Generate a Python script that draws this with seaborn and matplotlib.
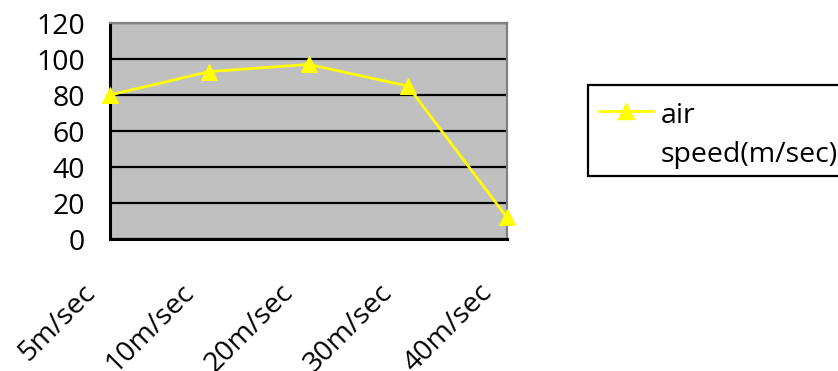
import pandas as pd
import matplotlib
matplotlib.use('Agg')
import matplotlib.pyplot as plt
import seaborn as sns
from matplotlib.lines import Line2D
from matplotlib.patches import Rectangle
from matplotlib.transforms import ScaledTranslation

# data
speeds = ['5m/sec', '10m/sec', '20m/sec', '30m/sec', '40m/sec']
air_speed = [80, 93, 97, 85, 12]
y_ticks = [0, 20, 40, 60, 80, 100, 120]
legend_lines = ['air', 'speed(m/sec)']

df = pd.DataFrame({'speed': speeds, 'air': air_speed})

sns.set_style('white')
plt.rcParams['font.family'] = ['Open Sans', 'DejaVu Sans']
plt.rcParams['text.color'] = 'black'
plt.rcParams['xtick.color'] = 'black'
plt.rcParams['ytick.color'] = 'black'

W, H = 838, 371
fig = plt.figure(figsize=(W / 100, H / 100), dpi=100)
ax = fig.add_axes([110 / W, 1 - 239 / H, 397 / W, 216 / H])
ax.set_facecolor('#C0C0C0')

sns.lineplot(data=df, x='speed', y='air', ax=ax, color='#FFFF00', lw=2,
             marker='^', markersize=11, markeredgecolor='#FFFF00', sort=False,
             clip_on=False, zorder=5)

ax.set_xlim(0, len(speeds) - 1)
ax.set_ylim(0, 120)
ax.set_yticks(y_ticks)
ax.yaxis.grid(True, color='black', lw=1.6)
ax.set_axisbelow(True)
ax.set_xlabel('')
ax.set_ylabel('')

for s in ['left', 'bottom']:
    ax.spines[s].set_color('black')
    ax.spines[s].set_linewidth(2.2)
for s in ['top', 'right']:
    ax.spines[s].set_color('#808080')
    ax.spines[s].set_linewidth(1.6)

ax.tick_params(axis='y', direction='in', length=6, width=1.6, color='black',
               labelsize=20.5, labelcolor='black', pad=18)
ax.tick_params(axis='x', direction='in', length=8, width=1.6, color='black',
               labelsize=20.5, labelcolor='black', pad=18)
ax.set_xticks(range(len(speeds)))
ax.set_xticklabels(speeds, rotation=45, ha='right', va='top', rotation_mode='anchor')
shift = ScaledTranslation(-0.29, -0.15, fig.dpi_scale_trans)
for lab in ax.get_xticklabels():
    lab.set_transform(lab.get_transform() + shift)

# legend box (runs off the right edge like the original)
fx = lambda px: px / W
fy = lambda py: 1 - py / H
fig.add_artist(Rectangle((fx(588), fy(176)), fx(900) - fx(588), fy(85) - fy(176),
                         transform=fig.transFigure, facecolor='white',
                         edgecolor='black', lw=1.6, clip_on=False))
fig.add_artist(Line2D([fx(599), fx(653)], [fy(111), fy(111)], transform=fig.transFigure,
                      color='#FFFF00', lw=2))
fig.add_artist(Line2D([fx(626)], [fy(111)], transform=fig.transFigure, color='#FFFF00',
                      marker='^', markersize=11, lw=0))
fig.text(fx(661), fy(123), legend_lines[0], fontsize=20.5, va='baseline', ha='left')
fig.text(fx(661), fy(162), legend_lines[1], fontsize=20.5, va='baseline', ha='left')

fig.savefig('out.png', dpi=100)
